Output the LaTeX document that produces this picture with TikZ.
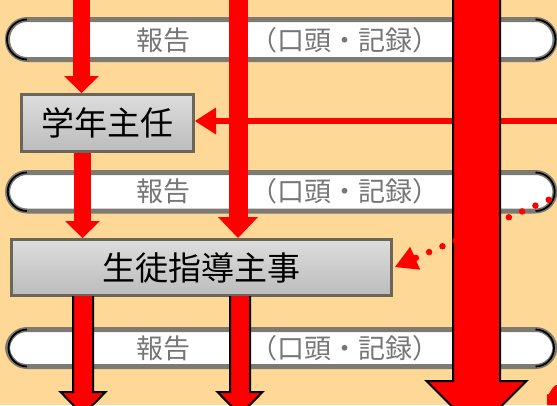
\documentclass[tikz,border=0pt]{standalone}
\usepackage{fontspec}
\newfontfamily\jp{Noto Sans CJK JP}
\usetikzlibrary{arrows.meta,calc}
\definecolor{bg}{RGB}{253,216,150}
\definecolor{rr}{RGB}{255,0,0}
\definecolor{bandgray}{RGB}{125,122,115}
\definecolor{txtgray}{RGB}{118,118,118}
\definecolor{boxline}{RGB}{108,102,90}
\definecolor{boxtop}{RGB}{221,221,221}
\definecolor{boxbot}{RGB}{188,188,188}
\newcommand\blockarr[6]{%
  \filldraw[outarrow] (#1-#5,#2) -- (#1-#5,#3) -- (#1-#6,#3) -- (#1,#4) -- (#1+#6,#3) -- (#1+#5,#3) -- (#1+#5,#2);}
\begin{document}
\begin{tikzpicture}[x=1pt,y=-1pt,
  band/.style={draw=bandgray, line width=5pt, fill=white, rounded corners=19.5pt},
  bandend/.style={draw=black, line width=1.8pt},
  bandtxt/.style={font=\jp\fontsize{27}{27}\selectfont, text=txtgray, inner sep=0pt},
  rolebox/.style={draw=boxline, line width=3pt, top color=boxtop, bottom color=boxbot,
    font=\jp\fontsize{33}{33}\selectfont, inner sep=0pt, anchor=center},
  outarrow/.style={fill=rr, draw=black, line width=2pt, line join=miter},
  flowA/.style={draw=rr, line width=17pt, -{Triangle[length=17pt,width=35pt,line width=0pt]}},
  flowB/.style={draw=rr, line width=19pt, -{Triangle[length=21pt,width=40pt,line width=0pt]}},
  flowH/.style={draw=rr, line width=6pt, -{Triangle[length=21pt,width=27pt,line width=0pt]}},
  dotarrow/.style={draw=rr, line width=6.5pt, line cap=round, dash pattern=on 0pt off 14.5pt,
    -{Triangle[length=22pt,width=25pt,line width=0pt]}}
]
\fill[bg] (0,0) rectangle (557,405);
\useasboundingbox (0,0) rectangle (557,405);

% bands
\foreach \t/\b/\m [count=\i] in {19.5/59.5/40, 172.5/211/191.5, 329.5/366.5/348}{
  \draw[band] (7.5,\t) rectangle (555,\b);
  \draw[bandend] (27,\t) arc[start angle=-90, end angle=-270, radius={(\b-\t)/2}];
  \draw[bandend] (535.5,\t) arc[start angle=-90, end angle=90, radius={(\b-\t)/2}];
  \node[bandtxt] (bh\i) at (163,\m) {報告};
  \node[bandtxt] (br\i) at (345,\m) {（口頭・記録）};
}

% boxes
\node[rolebox, minimum width=172pt, minimum height=57pt] (k1) at (107.5,123) {学年主任};
\node[rolebox, minimum width=380pt, minimum height=56pt] (k2) at (201.5,267.5) {生徒指導主事};

% horizontal arrow to k1
\coordinate (h0) at (565,121);
\draw[flowH] (h0) -- (h0 -| k1.east);

% vertical plain arrows
\coordinate (a0) at (81.5,-5);
\draw[flowA] (a0) -- (a0 |- k1.north);
\coordinate (a1) at (82.5,0);
\draw[flowA] (a1 |- k1.south) -- (a1 |- k2.north);
\coordinate (b0) at (238,-5);
\draw[flowB] (b0) -- (b0 |- k2.north);

% outlined arrows from k2 downward
\blockarr{83}{296}{392}{415}{10}{22.5}
\blockarr{240}{296}{392}{415}{10}{22.5}

% big arrow
\blockarr{476.5}{-5}{381}{431}{23.5}{50}

% dotted arrow
\coordinate (d0) at (562,194);
\coordinate (d1) at (395,267);
\draw[dotarrow] (d0) -- (d1);

% red piece bottom right
\fill[rr] (547,405) -- (547,394) to[out=-80,in=180] (557,385) -- (557,405) -- cycle;
\end{tikzpicture}
\end{document}
